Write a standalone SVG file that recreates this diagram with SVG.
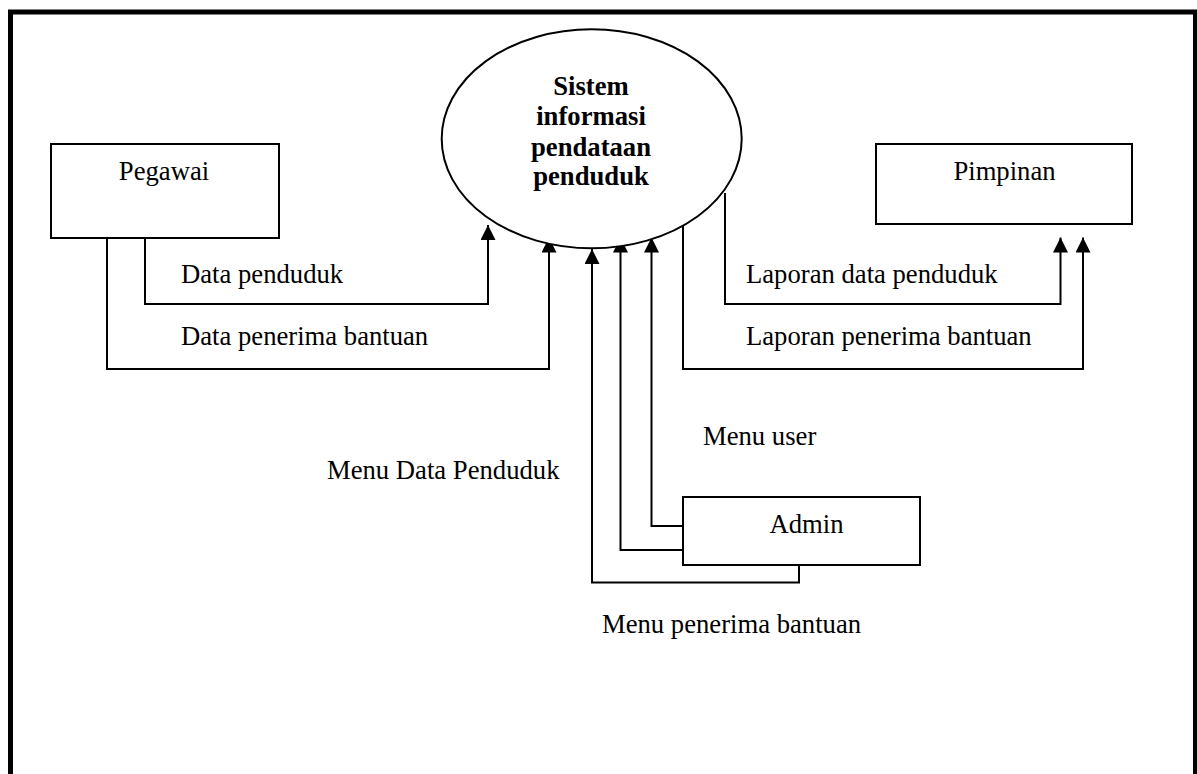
<svg xmlns="http://www.w3.org/2000/svg" width="1197" height="774" viewBox="0 0 1197 774">
  <style>
    .box { fill: #ffffff; stroke: #000000; stroke-width: 2; }
    .conn { fill: none; stroke: #000000; stroke-width: 2; }
    .arrow { marker-end: url(#head); }
    text { font-family: "Liberation Serif", "Times New Roman", serif; font-size: 26.67px; fill: #000000; }
    .bold { font-weight: bold; }
    .mid { text-anchor: middle; }
  </style>
  <defs>
    <marker id="head" viewBox="0 0 15 15" refX="15" refY="7.5" markerWidth="15" markerHeight="15" markerUnits="userSpaceOnUse" orient="auto">
      <path d="M0,0 L15,7.5 L0,15 z" fill="#000000"/>
    </marker>
  </defs>
  <rect width="1197" height="774" fill="#ffffff"/>
  <path id="frame" d="M10.5,774 V12 H1195.5 V774" fill="none" stroke="#000000" stroke-width="5"/>

  <g id="connectors">
    <path class="conn arrow" d="M145,238 V304 H488 V225"/>
    <path class="conn arrow" d="M107,238 V369 H549 V237.5"/>
    <path class="conn arrow" d="M725,193 V304 H1060.5 V237.5"/>
    <path class="conn arrow" d="M683,226 V369 H1083 V237.5"/>
    <path class="conn arrow" d="M683,526 H651.5 V237.5"/>
    <path class="conn arrow" d="M683,550 H620.5 V237.5"/>
    <path class="conn arrow" d="M799,566 V582.5 H592 V249"/>
    <text x="181" y="283">Data penduduk</text>
    <text x="181" y="345">Data penerima bantuan</text>
    <text x="746" y="283">Laporan data penduduk</text>
    <text x="746" y="345">Laporan penerima bantuan</text>
    <text x="703" y="445">Menu user</text>
    <text x="327" y="479">Menu Data Penduduk</text>
    <text x="602" y="633">Menu penerima bantuan</text>
  </g>

  <g id="system">
    <ellipse class="box" cx="591.7" cy="138.8" rx="150" ry="109.5"/>
    <text class="bold mid" x="591" y="95">Sistem</text>
    <text class="bold mid" x="591" y="125">informasi</text>
    <text class="bold mid" x="591" y="156">pendataan</text>
    <text class="bold mid" x="591" y="185">penduduk</text>
  </g>

  <g id="pegawai">
    <rect class="box" x="51" y="144" width="228" height="94"/>
    <text class="mid" x="164" y="180">Pegawai</text>
  </g>

  <g id="pimpinan">
    <rect class="box" x="876" y="144" width="256" height="80"/>
    <text class="mid" x="1004.5" y="180">Pimpinan</text>
  </g>

  <g id="admin">
    <rect class="box" x="683" y="497" width="237" height="68"/>
    <text class="mid" x="806.5" y="533">Admin</text>
  </g>
</svg>
